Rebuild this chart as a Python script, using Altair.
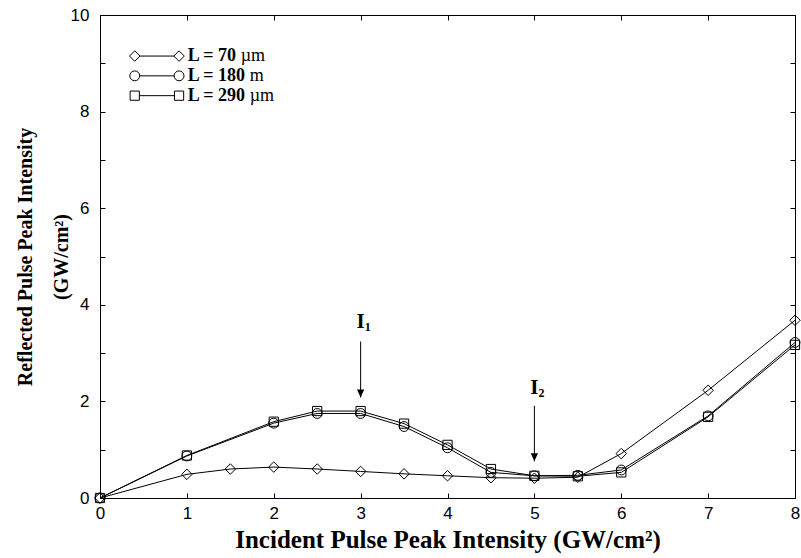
import altair as alt
import pandas as pd

# ---- data -------------------------------------------------------------
series_names = ["L = 70 µm", "L = 180 m", "L = 290 µm"]

x_70 = [0, 1, 1.5, 2, 2.5, 3, 3.5, 4, 4.5, 5, 5.5, 6, 7, 8]
y_70 = [0, 0.49, 0.60, 0.64, 0.60, 0.55, 0.50, 0.46, 0.42, 0.41, 0.43, 0.92, 2.23, 3.68]

x_long = [0, 1, 2, 2.5, 3, 3.5, 4, 4.5, 5, 5.5, 6, 7, 8]
y_180 = [0, 0.87, 1.55, 1.75, 1.75, 1.48, 1.04, 0.53, 0.46, 0.47, 0.58, 1.70, 3.22]
y_290 = [0, 0.88, 1.58, 1.80, 1.80, 1.54, 1.10, 0.60, 0.46, 0.45, 0.53, 1.68, 3.17]

x_tick_values = list(range(0, 9))
y_tick_values = list(range(0, 11))
y_label_values = [0, 2, 4, 6, 8, 10]

legend_bold = ["L = 70", "L = 180", "L = 290"]
legend_unit = ["µm", "m", "µm"]

# intensity markers I1 / I2
mark_names = ["1", "2"]
mark_x = [3, 5]

# ---- tables -----------------------------------------------------------
rows = []
for xv, yv in zip(x_70, y_70):
    rows.append({"series": series_names[0], "x": xv, "y": yv})
for xv, yv in zip(x_long, y_180):
    rows.append({"series": series_names[1], "x": xv, "y": yv})
for xv, yv in zip(x_long, y_290):
    rows.append({"series": series_names[2], "x": xv, "y": yv})
df = pd.DataFrame(rows)

# legend block in the upper-left corner (data coordinates)
leg_x0, leg_x1, leg_text_x = 0.40, 0.91, 1.01
leg_rows_y = [9.15, 8.74, 8.33]
unit_dx = [53, 62, 62]
legend_df = pd.DataFrame({
    "series": series_names,
    "y": leg_rows_y,
    "bold": legend_bold,
    "unit": legend_unit,
    "x0": [leg_x0] * 3,
    "x1": [leg_x1] * 3,
    "xt": [leg_text_x] * 3,
})

# arrows pointing to the two intensity thresholds
arrow_df = pd.DataFrame({
    "x": mark_x,
    "sub": mark_names,
    "label_y": [3.65, 2.28],
    "top": [3.24, 1.91],
    "tip": [2.08, 0.76],
})

# ---- chart ------------------------------------------------------------
W, H = 695, 483
xs = alt.Scale(domain=[0, 8], nice=False, zero=False)
ys = alt.Scale(domain=[0, 10], nice=False, zero=False)

shape_scale = alt.Scale(domain=series_names, range=["diamond", "circle", "square"])
size_scale = alt.Scale(domain=series_names, range=[110, 85, 64])

x_main = alt.Axis(
    orient="bottom", values=x_tick_values, format="d", ticks=False, domain=False, grid=False,
    labelFont="Liberation Sans", labelFontSize=17, labelColor="black", labelPadding=7,
    labelFlush=False, labelOverlap=False,
    title="Incident Pulse Peak Intensity (GW/cm²)", titleFont="Liberation Serif",
    titleFontWeight="bold", titleFontSize=25, titleColor="black",
    titleBaseline="alphabetic", titleY=49.5,
)
y_main = alt.Axis(
    orient="left", values=y_label_values, format="d", ticks=False, domain=False, grid=False,
    labelFont="Liberation Sans", labelFontSize=17, labelColor="black", labelPadding=11,
    labelFlush=False, labelOverlap=False,
    title=["Reflected Pulse Peak Intensity", "(GW/cm²)"], titleFont="Liberation Serif",
    titleFontWeight="bold", titleFontSize=20, titleColor="black",
    titleAngle=270, titleAlign="center", titleBaseline="middle",
    titleLineHeight=36, titleX=-75, titleY=H / 2,
)


def inner_ticks(orient, offset, values):
    return alt.Axis(
        orient=orient, offset=offset, values=values, labels=False, domain=False,
        grid=False, ticks=True, tickSize=5, tickColor="black", tickWidth=1, title=None,
    )


base = alt.Chart(df)

lines = base.mark_line(color="black", strokeWidth=1).encode(
    x=alt.X("x:Q", scale=xs, axis=x_main),
    y=alt.Y("y:Q", scale=ys, axis=y_main),
    detail="series:N",
    order="x:Q",
)

points = base.mark_point(filled=False, color="black", strokeWidth=1, opacity=1).encode(
    x=alt.X("x:Q", scale=xs, axis=None),
    y=alt.Y("y:Q", scale=ys, axis=None),
    shape=alt.Shape("series:N", scale=shape_scale, legend=None),
    size=alt.Size("series:N", scale=size_scale, legend=None),
)

# inward ticks along the bottom and left edges
ticks_bl = base.mark_point(opacity=0).encode(
    x=alt.X("x:Q", scale=xs, axis=inner_ticks("top", -H, x_tick_values)),
    y=alt.Y("y:Q", scale=ys, axis=inner_ticks("right", -W, y_tick_values)),
)
# inward ticks along the top and right edges
ticks_tr = base.mark_point(opacity=0).encode(
    x=alt.X("x:Q", scale=xs, axis=inner_ticks("bottom", -H, x_tick_values)),
    y=alt.Y("y:Q", scale=ys, axis=inner_ticks("left", -W, y_tick_values)),
)

leg = alt.Chart(legend_df)
leg_lines = leg.mark_rule(color="black", strokeWidth=1).encode(
    x=alt.X("x0:Q", scale=xs, axis=None),
    x2="x1:Q",
    y=alt.Y("y:Q", scale=ys, axis=None),
)
leg_pts_left = leg.mark_point(filled=True, fill="white", stroke="black", strokeWidth=1, opacity=1).encode(
    x=alt.X("x0:Q", scale=xs, axis=None),
    y=alt.Y("y:Q", scale=ys, axis=None),
    shape=alt.Shape("series:N", scale=shape_scale, legend=None),
    size=alt.Size("series:N", scale=size_scale, legend=None),
)
leg_pts_right = leg.mark_point(filled=True, fill="white", stroke="black", strokeWidth=1, opacity=1).encode(
    x=alt.X("x1:Q", scale=xs, axis=None),
    y=alt.Y("y:Q", scale=ys, axis=None),
    shape=alt.Shape("series:N", scale=shape_scale, legend=None),
    size=alt.Size("series:N", scale=size_scale, legend=None),
)
leg_bold = leg.mark_text(
    align="left", baseline="middle", font="Liberation Serif", fontWeight="bold",
    fontSize=18, color="black",
).encode(
    x=alt.X("xt:Q", scale=xs, axis=None),
    y=alt.Y("y:Q", scale=ys, axis=None),
    text="bold:N",
)
leg_units = []
for i in range(3):
    leg_units.append(
        alt.Chart(legend_df.iloc[[i]]).mark_text(
            align="left", baseline="middle", font="Liberation Serif",
            fontSize=18, color="black", dx=unit_dx[i],
        ).encode(
            x=alt.X("xt:Q", scale=xs, axis=None),
            y=alt.Y("y:Q", scale=ys, axis=None),
            text="unit:N",
        )
    )

arr = alt.Chart(arrow_df)
arrow_shafts = arr.mark_rule(color="black", strokeWidth=1).encode(
    x=alt.X("x:Q", scale=xs, axis=None),
    y=alt.Y("top:Q", scale=ys, axis=None),
    y2="tip:Q",
)
arrow_heads = arr.mark_point(
    filled=True, color="black", opacity=1, size=256,
    shape="M -0.45 -1 L 0.45 -1 L 0 0 Z",
).encode(
    x=alt.X("x:Q", scale=xs, axis=None),
    y=alt.Y("tip:Q", scale=ys, axis=None),
)
arrow_I = arr.mark_text(
    text="I", align="center", baseline="middle", font="Liberation Serif",
    fontWeight="bold", fontSize=21, color="black",
).encode(
    x=alt.X("x:Q", scale=xs, axis=None),
    y=alt.Y("label_y:Q", scale=ys, axis=None),
)
arrow_sub = arr.mark_text(
    align="left", baseline="middle", font="Liberation Serif",
    fontWeight="bold", fontSize=12, color="black", dx=4, dy=5,
).encode(
    x=alt.X("x:Q", scale=xs, axis=None),
    y=alt.Y("label_y:Q", scale=ys, axis=None),
    text="sub:N",
)

chart = (
    alt.layer(
        lines, points, ticks_bl, ticks_tr,
        leg_lines, leg_pts_left, leg_pts_right, leg_bold, *leg_units,
        arrow_shafts, arrow_heads, arrow_I, arrow_sub,
    )
    .resolve_axis(x="independent", y="independent")
    .properties(
        width=W, height=H,
        padding={"left": 100, "top": 15, "right": 6, "bottom": 60},
        autosize=alt.AutoSizeParams(type="none"),
        background="white",
    )
    .configure_view(stroke="black", strokeWidth=1)
)

chart.save("out.html", embed_options={"renderer": "svg", "actions": False})
